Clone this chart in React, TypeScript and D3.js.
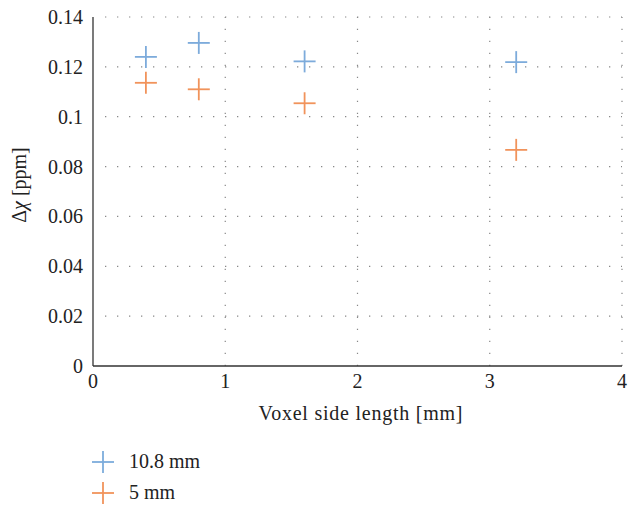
import React from "react";
import * as d3 from "d3";

const voxelSizes = [0.4, 0.8, 1.6, 3.2];
const series108 = [0.124, 0.1296, 0.1222, 0.1219];
const series5 = [0.1136, 0.111, 0.1054, 0.0867];
const seriesNames = ["10.8 mm", "5 mm"];
const seriesColors = ["#6fa3d8", "#f0884a"];
const xTicks = [0, 1, 2, 3, 4];
const yTicks = [0, 0.02, 0.04, 0.06, 0.08, 0.1, 0.12, 0.14];

const W = 630, H = 507;
const FAMILY = '"Liberation Serif", "Times New Roman", Times';
const FS: React.CSSProperties = { fontFamily: FAMILY };

function Plus({ x, y, color, size = 11 }: { x: number; y: number; color: string; size?: number }) {
  return (
    <g stroke={color} strokeWidth={1.8} opacity={0.9}>
      <line x1={x - size} x2={x + size} y1={y} y2={y} />
      <line x1={x} x2={x} y1={y - size} y2={y + size} />
    </g>
  );
}

export default function App() {
  const x = d3.scaleLinear().domain([0, 4]).range([93, 622]);
  const y = d3.scaleLinear().domain([0, 0.14]).range([366, 17]);
  const data = [series108, series5];
  return (
    <svg width={W} height={H} style={{ position: "absolute", left: 0, top: 0, background: "#fff", fontFamily: FAMILY }}>
      {yTicks.filter((t) => t > 0).map((t) => (
        <line key={"gy" + t} x1={x(0) + 12} x2={x(4)} y1={y(t)} y2={y(t)} stroke="#888" strokeWidth={1.2} strokeDasharray="1.3,10.7" />
      ))}
      {xTicks.filter((t) => t > 0).map((t) => (
        <line key={"gx" + t} x1={x(t)} x2={x(t)} y1={y(0)} y2={y(0.14)} stroke="#888" strokeWidth={1.2} strokeDasharray="1.3,10.7" />
      ))}
      <line x1={x(0)} x2={x(0)} y1={y(0.14)} y2={y(0)} stroke="#333" strokeWidth={1.3} />
      <line x1={x(0)} x2={x(4)} y1={y(0)} y2={y(0)} stroke="#333" strokeWidth={1.3} />
      {yTicks.map((t) => (
        <text key={"ty" + t} x={x(0) - 10} y={y(t) + 7} textAnchor="end" fontSize={20} fill="#222" style={FS}>
          {d3.format("~g")(t)}
        </text>
      ))}
      {xTicks.map((t) => (
        <text key={"tx" + t} x={x(t)} y={y(0) + 22} textAnchor="middle" fontSize={20} fill="#222" style={FS}>
          {t}
        </text>
      ))}
      <text x={(x(0) + x(4)) / 2 + 3} y={420} textAnchor="middle" fontSize={20} fill="#222" style={FS}
        textLength={204} lengthAdjust="spacing">
        Voxel side length [mm]
      </text>
      <text transform="translate(26,185) rotate(-90)" textAnchor="middle" fontSize={20} fill="#222" style={FS}>
        Δ<tspan fontStyle="italic">χ</tspan> [ppm]
      </text>
      {data.map((s, si) =>
        s.map((v, i) => <Plus key={si + "-" + i} x={x(voxelSizes[i])} y={y(v)} color={seriesColors[si]} />)
      )}
      {seriesNames.map((n, i) => (
        <g key={n}>
          <Plus x={103} y={462 + i * 31} color={seriesColors[i]} />
          <text x={129} y={468 + i * 31} fontSize={20} fill="#222" style={FS}>
            {n}
          </text>
        </g>
      ))}
    </svg>
  );
}
